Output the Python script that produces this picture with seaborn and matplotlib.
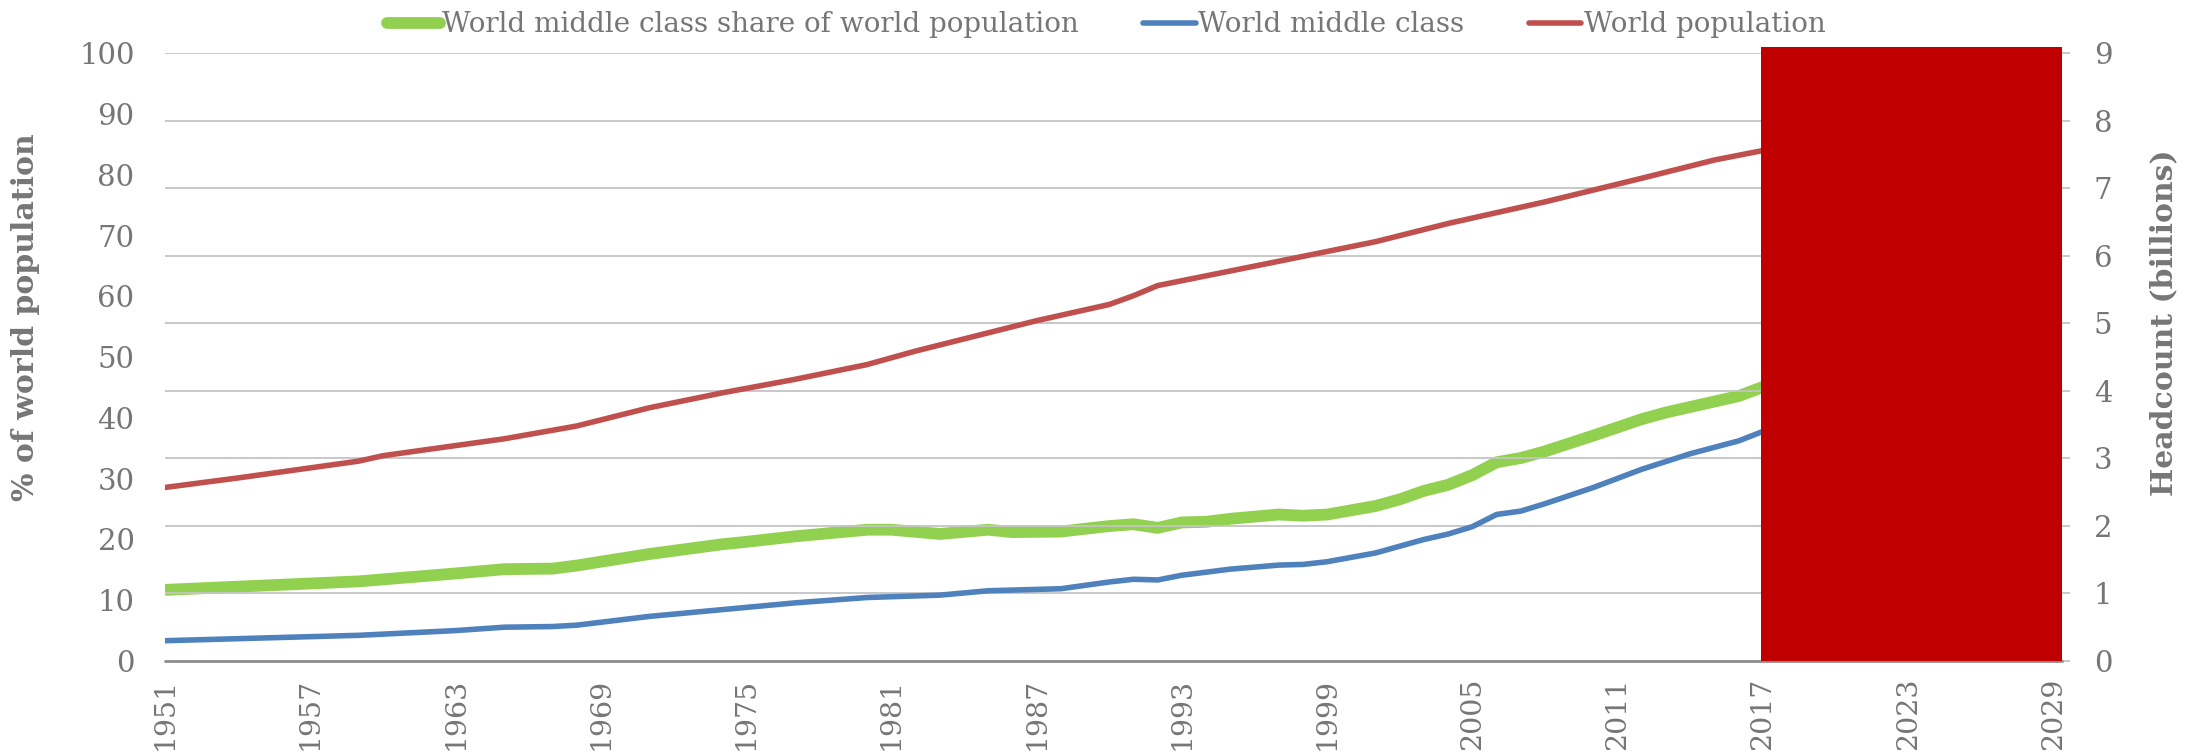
import matplotlib
matplotlib.use("Agg")
import matplotlib.pyplot as plt
from matplotlib.patches import Rectangle
from matplotlib.lines import Line2D
import seaborn as sns
import pandas as pd

# ---- data ----
share_years = [1951, 1959, 1963, 1965, 1967, 1968, 1971, 1974, 1975, 1977, 1980, 1981,
               1983, 1985, 1986, 1988, 1990, 1991, 1992, 1993, 1994, 1995, 1997, 1998,
               1999, 2001, 2002, 2003, 2004, 2005, 2006, 2007, 2008, 2010, 2012, 2013,
               2014, 2016, 2017]
share_pct = [11.7, 13.1, 14.4, 15.1, 15.2, 15.7, 17.6, 19.2, 19.6, 20.5, 21.6, 21.6,
             20.9, 21.6, 21.2, 21.3, 22.2, 22.5, 21.9, 22.8, 22.9, 23.4, 24.1, 23.9,
             24.1, 25.5, 26.6, 28.0, 29.0, 30.6, 32.7, 33.4, 34.5, 37.1, 39.8, 40.9,
             41.8, 43.6, 45.1]

mc_years = [1951, 1959, 1963, 1965, 1967, 1968, 1971, 1974, 1977, 1980, 1983, 1985,
            1988, 1990, 1991, 1992, 1993, 1995, 1997, 1998, 1999, 2001, 2002, 2003,
            2004, 2005, 2006, 2007, 2008, 2010, 2012, 2014, 2016, 2017]
mc_bn = [0.30, 0.38, 0.45, 0.50, 0.51, 0.53, 0.66, 0.76, 0.86, 0.94, 0.975, 1.04,
         1.07, 1.17, 1.21, 1.20, 1.27, 1.36, 1.42, 1.43, 1.47, 1.60, 1.70, 1.80,
         1.88, 1.99, 2.17, 2.22, 2.33, 2.57, 2.84, 3.07, 3.26, 3.40]

pop_years = [1951, 1954, 1959, 1960, 1964, 1965, 1968, 1971, 1974, 1977, 1980, 1982,
             1985, 1987, 1990, 1991, 1992, 1997, 2001, 2004, 2008, 2012, 2015, 2017]
pop_bn = [2.57, 2.71, 2.96, 3.04, 3.24, 3.29, 3.48, 3.75, 3.97, 4.17, 4.39, 4.59,
          4.86, 5.04, 5.28, 5.41, 5.56, 5.92, 6.21, 6.48, 6.80, 7.15, 7.42, 7.56]

x_ticks = list(range(1951, 2030, 6))
left_ticks = list(range(0, 101, 10))
right_ticks = list(range(0, 10))
labels = ["World middle class share of world population", "World middle class", "World population"]
mask_start = 2016.9

GREEN, BLUE, RED = "#92D050", "#4F81BD", "#C0504D"
TXT = "#767676"
GRID = "#C4C4C4"

sns.set_theme(style="white")
plt.rcParams["font.family"] = ["DejaVu Serif", "DejaVu Sans"]

fig = plt.figure(figsize=(21.95, 7.56), dpi=100)
ax = fig.add_axes([0.0752, 0.1257, 0.8642, 0.8038])
ax2 = ax.twinx()

xmin, xmax = 1951, 2029.35
ax.set_xlim(xmin, xmax)
ax.set_ylim(0, 100)
ax2.set_ylim(0, 9)

ax2.set_yticks(right_ticks)
for v in right_ticks[1:]:
    ax2.axhline(v, color=GRID, lw=1.3, zorder=0)

df_s = pd.DataFrame({"year": share_years, "v": share_pct})
df_m = pd.DataFrame({"year": mc_years, "v": mc_bn})
df_p = pd.DataFrame({"year": pop_years, "v": pop_bn})

sns.lineplot(data=df_s, x="year", y="v", ax=ax, color=GREEN, linewidth=8.5, legend=False,
             solid_joinstyle="round", solid_capstyle="butt")
sns.lineplot(data=df_m, x="year", y="v", ax=ax2, color=BLUE, linewidth=4.0, legend=False)
sns.lineplot(data=df_p, x="year", y="v", ax=ax2, color=RED, linewidth=4.0, legend=False)

ax.set_zorder(1)
ax2.set_zorder(2)
ax2.patch.set_visible(False)

ax2.add_patch(Rectangle((mask_start, 0), xmax - mask_start, 9.1, facecolor="#C00000",
                        edgecolor="none", clip_on=False, zorder=20))

ax.set_xticks(x_ticks)
ax.set_xticklabels([str(t) for t in x_ticks], rotation=90, fontsize=20.5, color=TXT)
ax.tick_params(axis="x", length=0, pad=12)
ax.set_yticks(left_ticks)
ax.set_yticklabels([str(t) for t in left_ticks], fontsize=21, color=TXT)
ax.tick_params(axis="y", length=0, pad=22)
ax2.set_yticklabels([str(t) for t in right_ticks], fontsize=21, color=TXT)
ax2.tick_params(axis="y", length=6, width=1.3, color=GRID, pad=17, direction="out")

for a in (ax, ax2):
    for s in ["top", "left", "right", "bottom"]:
        a.spines[s].set_visible(False)
ax2.axhline(0, color="#8C8C8C", lw=2.0, zorder=1, clip_on=False)
ax.set_xlabel("")
ax.set_ylabel("% of world population", fontsize=21.5, fontweight="bold", color=TXT)
ax.yaxis.set_label_coords(-0.066, 0.565)
ax2.set_ylabel("Headcount (billions)", fontsize=21.5, fontweight="bold", color=TXT, rotation=90)
ax2.yaxis.set_label_coords(1.046, 0.556)

handles = [Line2D([], [], color=GREEN, lw=8.5, solid_capstyle="round"),
           Line2D([], [], color=BLUE, lw=4.0, solid_capstyle="round"),
           Line2D([], [], color=RED, lw=4.0, solid_capstyle="round")]
leg = fig.legend(handles, labels, loc="center", bbox_to_anchor=(0.504, 0.967), ncol=3,
                 frameon=False, fontsize=20, handlelength=1.9, handletextpad=0.1,
                 columnspacing=2.3, labelcolor=TXT)

fig.savefig("out.png", dpi=100)
